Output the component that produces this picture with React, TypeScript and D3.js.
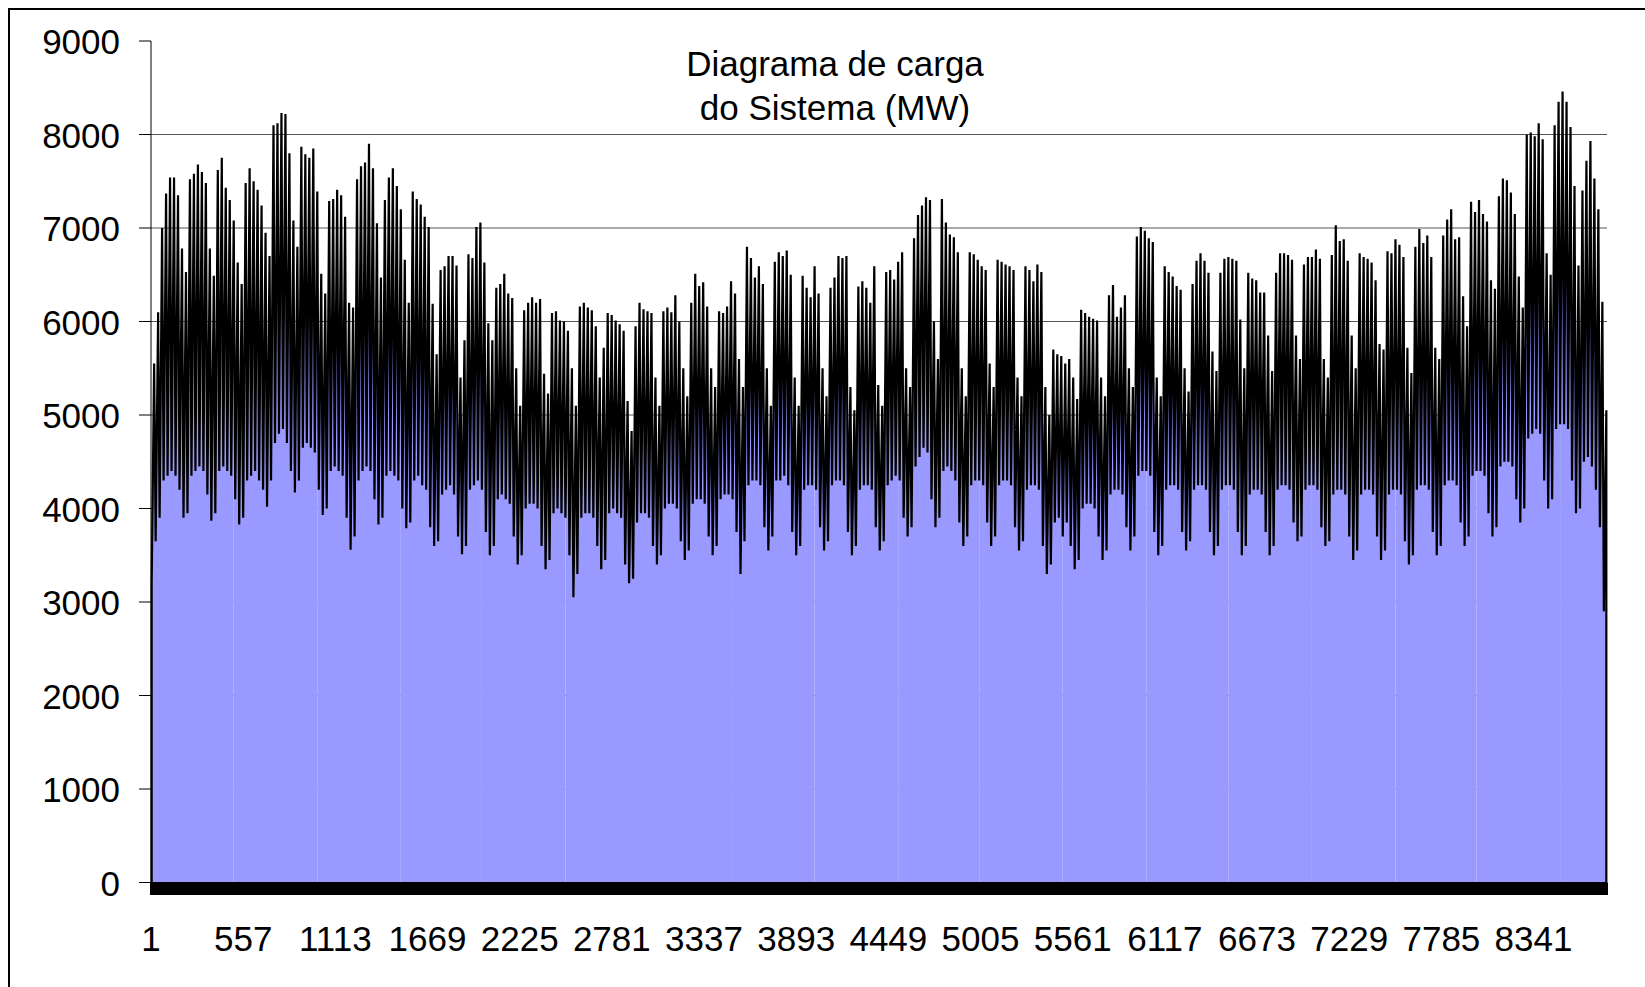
import React from "react";
import * as d3 from "d3";

// ---- data ----
const HOURS = 8784; // hourly categories on the x axis
const MIN_HOUR = 5; // hour of day where the night minimum is placed
const PEAK_HOUR = 20; // hour of day where the daily peak is placed
const CHUNK_HOURS = 500; // the area is filled in blocks of 500 hours

// daily peak load (MW), one row per week (Sat..Fri)
const dailyPeak = [
  5550, 6100, 7000, 7370, 7540, 7540, 7350,
  6780, 6530, 7520, 7580, 7680, 7600, 7480,
  6780, 6490, 7620, 7750, 7430, 7300, 7080,
  6630, 6400, 7480, 7640, 7500, 7410, 7240,
  6950, 6700, 8100, 8120, 8230, 8220, 7800,
  7080, 6800, 7870, 7790, 7750, 7850, 7390,
  6510, 6300, 7290, 7310, 7410, 7350, 7120,
  6200, 6150, 7520, 7660, 7700, 7900, 7640,
  7050, 6470, 7300, 7540, 7640, 7450, 7200,
  6660, 6200, 7390, 7310, 7250, 7120, 7010,
  6190, 5650, 6550, 6590, 6700, 6700, 6600,
  5400, 5800, 6720, 6680, 7010, 7060, 6630,
  5980, 5800, 6360, 6400, 6510, 6300, 6250,
  5500, 5100, 6120, 6200, 6260, 6200, 6240,
  5440, 5230, 6090, 6110, 6010, 6000, 5900,
  5500, 5100, 6160, 6200, 6150, 6120, 5950,
  5400, 5720, 6090, 6070, 6010, 5970, 5900,
  5150, 4830, 5950, 6200, 6130, 6110, 6090,
  5400, 5100, 6110, 6150, 6100, 6280, 6000,
  5500, 5200, 6200, 6510, 6380, 6420, 6160,
  5500, 5300, 6110, 6090, 6160, 6430, 6300,
  5600, 5300, 6800, 6680, 6470, 6590, 6400,
  5500, 5100, 6640, 6740, 6700, 6760, 6500,
  5400, 5100, 6490, 6360, 6260, 6590, 6300,
  5500, 5200, 6360, 6470, 6700, 6680, 6700,
  5300, 5050, 6375, 6430, 6360, 6200, 6590,
  5320, 5100, 6530, 6550, 6450, 6640, 6740,
  5500, 5300, 6890, 7140, 7240, 7330, 7300,
  6000, 5600, 7310, 7060, 6930, 6900, 6740,
  5500, 5200, 6740, 6720, 6660, 6590, 6550,
  5550, 5300, 6660, 6640, 6610, 6590, 6550,
  5400, 5200, 6590, 6550, 6430, 6610, 6530,
  5300, 5000, 5700, 5650, 5630, 5550, 5600,
  5400, 5170, 6125, 6090, 6050, 6030, 6010,
  5400, 5200, 6280, 6390, 6050, 6150, 6280,
  5500, 5300, 6910, 7010, 6970, 6890, 6850,
  5400, 5200, 6590, 6530, 6480, 6380, 6340,
  5500, 5250, 6400, 6650, 6730, 6650, 6520,
  5680, 5470, 6520, 6670, 6690, 6670, 6650,
  6020, 5500, 6520, 6460, 6440, 6310, 6310,
  5850, 5470, 6520, 6730, 6730, 6710, 6660,
  5850, 5600, 6610, 6690, 6690, 6770, 6670,
  5600, 5400, 6710, 7030, 6860, 6880, 6650,
  5850, 5500, 6730, 6690, 6670, 6630, 6440,
  5760, 5700, 6750, 6730, 6880, 6820, 6690,
  5720, 5450, 6800, 6990, 6840, 6920, 6690,
  5720, 5600, 6920, 7090, 7200, 6880, 6900,
  6270, 5950, 7280, 7170, 7300, 7150, 7070,
  6440, 6350, 7340, 7530, 7510, 7380, 7150,
  6480, 6150, 8000, 8020, 7980, 8120, 7950,
  6730, 6500, 8100, 8350, 8460, 8350, 8080,
  7450, 6600, 7400, 7720, 7930, 7530, 7200,
  6210, 5050,
];

// daily night minimum (MW), one row per week (Sat..Fri)
const dailyMin = [
  3200, 3650, 3900, 4300, 4350, 4400, 4350,
  4200, 3900, 3950, 4350, 4400, 4450, 4400,
  4150, 3870, 3950, 4400, 4450, 4400, 4350,
  4100, 3830, 3900, 4300, 4350, 4400, 4300,
  4200, 4020, 4300, 4700, 4800, 4850, 4700,
  4400, 4170, 4300, 4650, 4700, 4650, 4600,
  4200, 3930, 4000, 4400, 4450, 4400, 4350,
  3900, 3560, 3700, 4300, 4400, 4450, 4400,
  4100, 3830, 3900, 4350, 4400, 4350, 4300,
  4000, 3790, 3850, 4300, 4350, 4250, 4200,
  3800, 3600, 3650, 4150, 4200, 4250, 4150,
  3700, 3510, 3600, 4200, 4250, 4300, 4200,
  3750, 3500, 3600, 4100, 4150, 4100, 4050,
  3700, 3400, 3500, 4000, 4050, 4050, 4000,
  3600, 3350, 3450, 3950, 4000, 3950, 3900,
  3500, 3050, 3300, 3900, 3950, 3950, 3900,
  3600, 3350, 3450, 3950, 4000, 3950, 3900,
  3400, 3200, 3250, 3850, 3950, 3950, 3900,
  3600, 3400, 3500, 4000, 4050, 4050, 4000,
  3650, 3450, 3550, 4050, 4100, 4100, 4050,
  3700, 3500, 3600, 4100, 4150, 4150, 4100,
  3750, 3300, 3650, 4250, 4300, 4300, 4250,
  3800, 3550, 3700, 4300, 4300, 4350, 4250,
  3750, 3500, 3600, 4200, 4250, 4250, 4200,
  3800, 3550, 3650, 4250, 4300, 4300, 4250,
  3750, 3500, 3600, 4200, 4250, 4250, 4200,
  3800, 3550, 3650, 4250, 4300, 4350, 4300,
  3900, 3700, 3800, 4450, 4550, 4650, 4600,
  4100, 3800, 3900, 4400, 4450, 4400, 4300,
  3850, 3600, 3700, 4250, 4300, 4300, 4250,
  3850, 3600, 3700, 4250, 4300, 4300, 4250,
  3800, 3550, 3650, 4200, 4250, 4250, 4200,
  3600, 3300, 3400, 3850, 3900, 3700, 3850,
  3600, 3350, 3450, 4000, 4050, 4050, 4000,
  3700, 3450, 3550, 4150, 4200, 4200, 4150,
  3800, 3550, 3700, 4350, 4400, 4400, 4350,
  3750, 3500, 3600, 4200, 4250, 4250, 4200,
  3750, 3550, 3650, 4200, 4250, 4250, 4200,
  3750, 3500, 3600, 4200, 4250, 4250, 4200,
  3750, 3500, 3600, 4150, 4200, 4200, 4150,
  3750, 3500, 3600, 4200, 4250, 4250, 4200,
  3850, 3650, 3700, 4200, 4250, 4250, 4200,
  3800, 3600, 3650, 4150, 4200, 4200, 4150,
  3700, 3450, 3550, 4150, 4200, 4200, 4150,
  3700, 3450, 3550, 4150, 4200, 4200, 4150,
  3650, 3400, 3500, 4200, 4250, 4250, 4200,
  3750, 3500, 3600, 4250, 4300, 4300, 4250,
  3850, 3600, 3700, 4350, 4400, 4400, 4350,
  3950, 3700, 3800, 4450, 4500, 4500, 4450,
  4100, 3850, 4000, 4750, 4800, 4850, 4800,
  4300, 4000, 4100, 4850, 4900, 4900, 4850,
  4300, 3950, 4000, 4500, 4550, 4450, 4200,
  3800, 2900,
];

const yTicks = [0, 1000, 2000, 3000, 4000, 5000, 6000, 7000, 8000, 9000];
const gridValues = [1000, 2000, 3000, 4000, 5000, 6000, 7000, 8000];
const xLabels = [1, 557, 1113, 1669, 2225, 2781, 3337, 3893, 4449, 5005, 5561, 6117, 6673, 7229, 7785, 8341];
const titleLines = ["Diagrama de carga", "do Sistema (MW)"];

const FONT = "'Liberation Sans', Arial, Helvetica, sans-serif";

export default function App() {
  const W = 1645;
  const H = 987;
  const x = d3.scaleLinear().domain([1, HOURS]).range([151, 1607]);
  const y = d3.scaleLinear().domain([0, 9000]).range([882.5, 41]);

  const pts: [number, number][] = [];
  dailyPeak.forEach((p, d) => {
    pts.push([d * 24 + MIN_HOUR, dailyMin[d]]);
    pts.push([d * 24 + PEAK_HOUR, p]);
  });

  // split the filled area into blocks like the original renderer
  const chunks: [number, number][][] = [];
  let start = 0;
  for (let k = 1; k * CHUNK_HOURS + 1 < HOURS; k++) {
    const h = k * CHUNK_HOURS + 1;
    let idx = pts.findIndex((p) => p[0] >= h);
    if (idx < 0) break;
    if (idx > 0 && h - pts[idx - 1][0] < pts[idx][0] - h) idx = idx - 1;
    if (idx - start < 2) continue;
    chunks.push(pts.slice(start, idx + 1));
    start = idx;
  }
  chunks.push(pts.slice(start));

  const area = d3
    .area<[number, number]>()
    .x((d) => x(d[0]))
    .y0(y(0))
    .y1((d) => y(d[1]));

  const outline: [number, number][] = [
    [pts[0][0], 0],
    ...pts,
    [pts[pts.length - 1][0], 0],
  ];
  const line = d3
    .line<[number, number]>()
    .x((d) => x(d[0]))
    .y((d) => y(d[1]));

  const tickLen = 12.5;
  const y0 = y(0);

  return (
    <div style={{ position: "fixed", left: 0, top: 0, width: W, height: H, overflow: "hidden", background: "#fff" }}>
      <svg width={W} height={H} style={{ display: "block" }}>
        <rect x={0} y={0} width={W} height={H} fill="#fff" />
        {/* gridlines */}
        {gridValues.map((v) => (
          <line key={"g" + v} x1={x(1)} x2={x(HOURS)} y1={y(v)} y2={y(v)} stroke="#555" strokeWidth={1} />
        ))}
        {/* area fill */}
        {chunks.map((c, i) => (
          <path key={"a" + i} d={area(c) || ""} fill="#9999FF" stroke="none" />
        ))}
        {/* series outline */}
        <path d={line(outline) || ""} fill="none" stroke="#000" strokeWidth={2.2} strokeLinejoin="miter" />
        {/* category axis: a tick at every hour forms a solid band */}
        <rect x={x(1) - 1} y={y0} width={x(HOURS) - x(1) + 2} height={tickLen} fill="#000" />
        <line x1={x(1)} x2={x(HOURS)} y1={y0} y2={y0} stroke="#000" strokeWidth={1} />
        {xLabels.map((v) => (
          <text key={"xl" + v} x={x(v)} y={951} textAnchor="middle" fontFamily={FONT} fontSize={35} fill="#000">
            {v}
          </text>
        ))}
        {/* value axis */}
        <line x1={151} x2={151} y1={y(9000)} y2={y0} stroke="#000" strokeWidth={1} />
        {yTicks.map((v) => (
          <g key={"yt" + v}>
            <line x1={151 - 12} x2={151} y1={y(v)} y2={y(v)} stroke="#000" strokeWidth={1} />
            <text x={120} y={y(v) + 13} textAnchor="end" fontFamily={FONT} fontSize={35} fill="#000">
              {v}
            </text>
          </g>
        ))}
        {/* title */}
        {titleLines.map((t, i) => (
          <text key={"t" + i} x={835} y={76 + i * 44} textAnchor="middle" fontFamily={FONT} fontSize={35} fill="#000">
            {t}
          </text>
        ))}
        {/* chart border */}
        <rect x={9} y={9} width={1800} height={1200} fill="none" stroke="#000" strokeWidth={2} />
      </svg>
    </div>
  );
}
